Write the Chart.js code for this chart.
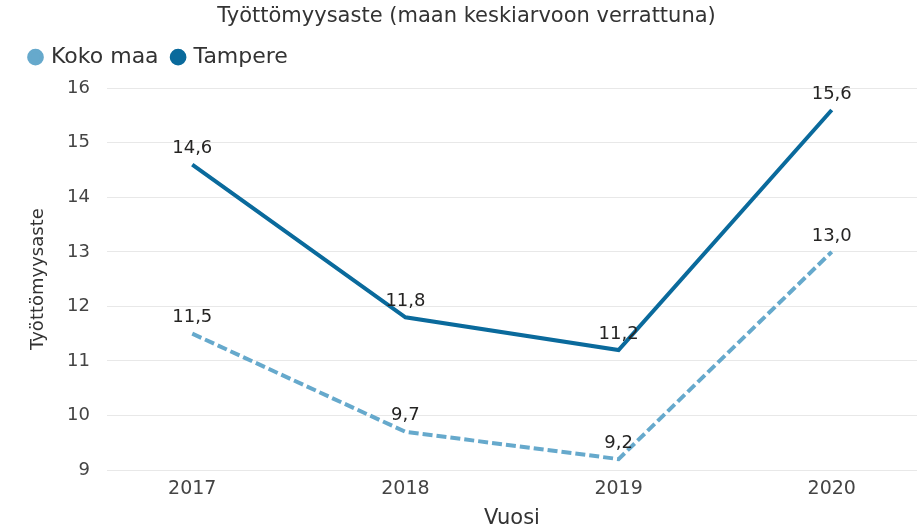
<!DOCTYPE html>
<html>
<head>
<meta charset="utf-8">
<script src="https://cdn.jsdelivr.net/npm/chart.js@4/dist/chart.umd.min.js"></script>
<style>
  html, body { margin: 0; padding: 0; background: #fff; }
  #wrap { width: 920px; height: 531px; }
</style>
</head>
<body>
<div id="wrap"><canvas id="chart" width="920" height="531"></canvas></div>
<script>
'use strict';

const years = [2017, 2018, 2019, 2020];
const kokoMaa = [11.5, 9.7, 9.2, 13.0];
const tampere = [14.6, 11.8, 11.2, 15.6];
const yTicks = [9, 10, 11, 12, 13, 14, 15, 16];

const FONT = '"DejaVu Sans", "Open Sans", sans-serif';

/* Draw value labels above every point, with a decimal comma */
const valueLabels = {
  id: 'valueLabels',
  afterDatasetsDraw(chart) {
    const ctx = chart.ctx;
    ctx.save();
    ctx.font = '18px ' + FONT;
    ctx.fillStyle = '#252423';
    ctx.textAlign = 'center';
    ctx.textBaseline = 'middle';
    chart.data.datasets.forEach((ds, i) => {
      chart.getDatasetMeta(i).data.forEach((pt, j) => {
        const txt = ds.data[j].y.toFixed(1).replace('.', ',');
        ctx.fillText(txt, pt.x, pt.y - 16);
      });
    });
    ctx.restore();
  }
};

/* Some extra room under the legend */
const legendGap = {
  id: 'legendGap',
  beforeInit(chart) {
    const fit = chart.legend.fit;
    chart.legend.fit = function() {
      fit.bind(chart.legend)();
      this.height += 10;
    };
  }
};

const toPoints = (vals) => vals.map((v, i) => ({ x: years[i], y: v }));

new Chart(document.getElementById('chart'), {
  type: 'line',
  data: {
    datasets: [
      {
        label: 'Koko maa',
        data: toPoints(kokoMaa),
        borderColor: '#66a9cc',
        backgroundColor: '#66a9cc',
        borderWidth: 4,
        borderDash: [10, 4],
        pointRadius: 0,
        tension: 0
      },
      {
        label: 'Tampere',
        data: toPoints(tampere),
        borderColor: '#0a6a9c',
        backgroundColor: '#0a6a9c',
        borderWidth: 4,
        pointRadius: 0,
        tension: 0
      }
    ]
  },
  options: {
    responsive: false,
    animation: false,
    layout: { padding: { left: 16, right: 3, top: 4, bottom: 0 } },
    plugins: {
      tooltip: { enabled: false },
      title: {
        display: true,
        text: 'Työttömyysaste (maan keskiarvoon verrattuna)',
        color: '#333333',
        font: { family: FONT, size: 21, weight: 'normal' },
        padding: { top: 0, bottom: 2 }
      },
      legend: {
        align: 'start',
        labels: {
          usePointStyle: true,
          pointStyle: 'circle',
          boxWidth: 9,
          boxHeight: 9,
          padding: 15,
          color: '#333333',
          font: { family: FONT, size: 22 }
        }
      }
    },
    scales: {
      x: {
        type: 'linear',
        min: 2016.6,
        max: 2020.4,
        afterBuildTicks(scale) {
          scale.ticks = years.map(v => ({ value: v }));
        },
        afterFit(scale) { scale.height = 61; },
        ticks: {
          color: '#444444',
          font: { family: FONT, size: 19 },
          padding: 8,
          callback: (v) => String(v)
        },
        grid: { display: false, drawTicks: false },
        border: { display: false },
        title: {
          display: true,
          text: 'Vuosi',
          color: '#333333',
          font: { family: FONT, size: 21 },
          padding: { top: 0, bottom: 0 }
        }
      },
      y: {
        min: 9,
        max: 16,
        afterBuildTicks(scale) {
          scale.ticks = yTicks.map(v => ({ value: v }));
        },
        afterFit(scale) { scale.width = 91; },
        ticks: {
          color: '#444444',
          font: { family: FONT, size: 18 },
          padding: 17
        },
        grid: { color: '#e8e8e8', lineWidth: 1, drawTicks: false },
        border: { display: false },
        title: {
          display: true,
          text: 'Työttömyysaste',
          color: '#333333',
          font: { family: FONT, size: 18 },
          padding: { top: 12, bottom: 4 }
        }
      }
    }
  },
  plugins: [valueLabels, legendGap]
});
</script>
</body>
</html>
